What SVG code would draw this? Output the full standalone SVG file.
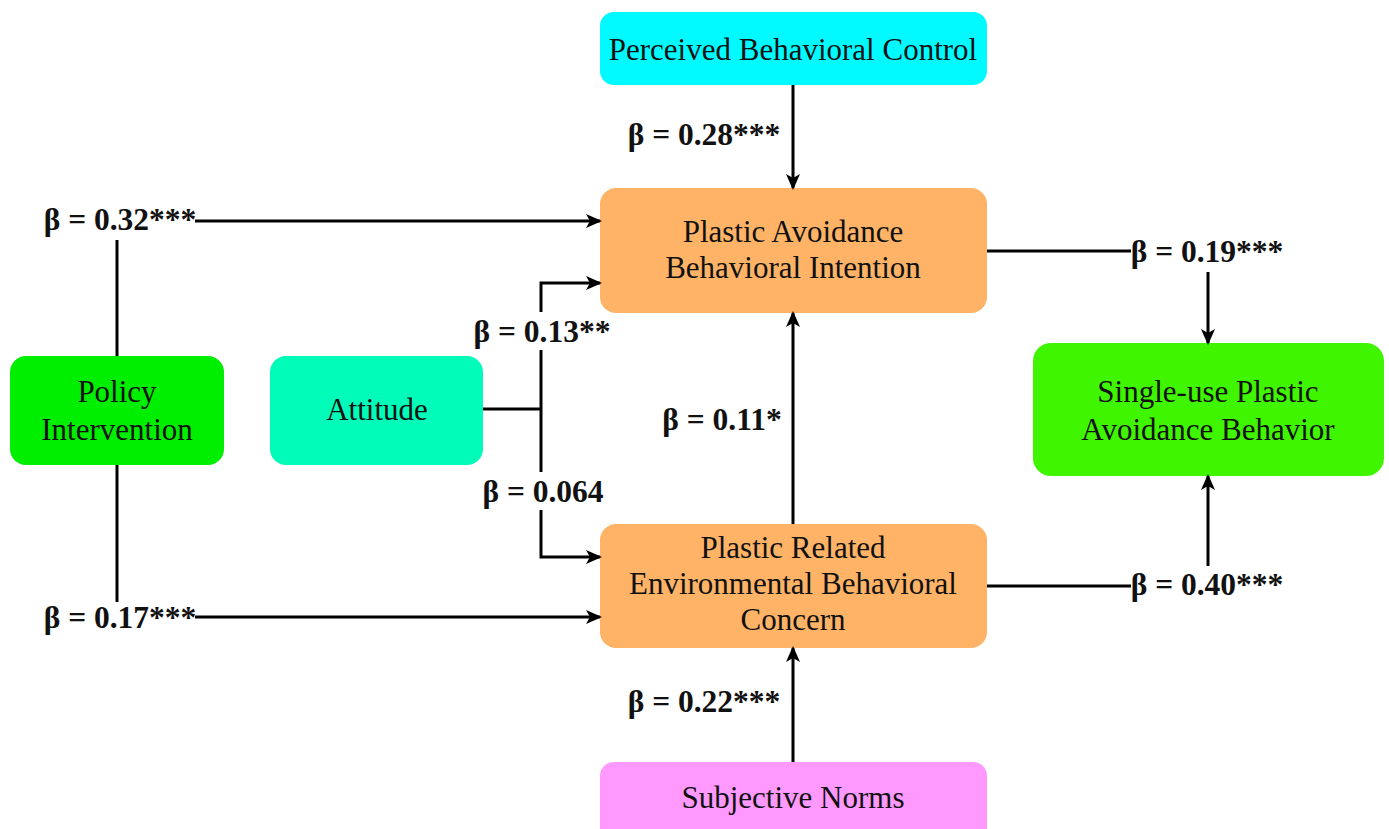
<svg xmlns="http://www.w3.org/2000/svg" width="1389" height="829" viewBox="0 0 1389 829">
<style>
.node text{font-family:'Liberation Serif',Tinos,'DejaVu Serif',serif;font-size:31px;fill:#111;text-anchor:middle}
.lbl{font-family:'Liberation Serif',Tinos,'DejaVu Serif',serif;font-size:31.5px;font-weight:bold;fill:#111;text-anchor:middle}
.c line,.c polyline{stroke:#000;stroke-width:3;fill:none}
.a{marker-end:url(#arr)}
</style>
<defs>
<marker id="arr" markerWidth="16" markerHeight="14" refX="14" refY="7" orient="auto" markerUnits="userSpaceOnUse">
<path d="M0,0 L16,7 L0,14 L4,7 Z" fill="#000"/>
</marker>
</defs>
<rect width="1389" height="829" fill="#fff"/>
<g id="pbc" class="node"><rect x="600" y="12" width="387" height="73" rx="14" fill="#00FAFF"/><text x="793" y="60">Perceived Behavioral Control</text></g>
<g id="pai" class="node"><rect x="600" y="188" width="387" height="125" rx="16" fill="#FFB366"/><text x="793" y="242">Plastic Avoidance</text><text x="793" y="278">Behavioral Intention</text></g>
<g id="prebc" class="node"><rect x="600" y="524" width="387" height="124" rx="16" fill="#FFB366"/><text x="793" y="558">Plastic Related</text><text x="793" y="594">Environmental Behavioral</text><text x="793" y="630">Concern</text></g>
<g id="sn" class="node"><rect x="600" y="762" width="387" height="80" rx="14" fill="#FF99FF"/><text x="793" y="808">Subjective Norms</text></g>
<g id="policy" class="node"><rect x="10" y="356" width="214" height="109" rx="16" fill="#00EE00"/><text x="117" y="402">Policy</text><text x="117" y="440">Intervention</text></g>
<g id="attitude" class="node"><rect x="270" y="356" width="213" height="109" rx="16" fill="#00FCB8"/><text x="377" y="420">Attitude</text></g>
<g id="sub" class="node"><rect x="1033" y="343" width="351" height="133" rx="18" fill="#40F500"/><text x="1208" y="402">Single-use Plastic</text><text x="1208" y="440">Avoidance Behavior</text></g>
<g id="connectors" class="c">
<line x1="793" y1="85" x2="793" y2="188" class="a"/>
<line x1="195" y1="221" x2="600" y2="221" class="a"/>
<line x1="117" y1="240" x2="117" y2="356"/>
<line x1="117" y1="465" x2="117" y2="602"/>
<line x1="195" y1="617" x2="600" y2="617" class="a"/>
<line x1="483" y1="409" x2="542" y2="409"/>
<polyline points="541,312 541,283 600,283" class="a"/>
<line x1="541" y1="350" x2="541" y2="472"/>
<polyline points="541,510 541,557 600,557" class="a"/>
<line x1="793" y1="524" x2="793" y2="313" class="a"/>
<line x1="793" y1="762" x2="793" y2="648" class="a"/>
<line x1="987" y1="251" x2="1131" y2="251"/>
<line x1="1208" y1="272" x2="1208" y2="343" class="a"/>
<line x1="987" y1="586" x2="1131" y2="586"/>
<line x1="1208" y1="566" x2="1208" y2="476" class="a"/>
</g>
<g id="labels">
<text class="lbl" x="704" y="145">β = 0.28***</text>
<text class="lbl" x="120" y="230">β = 0.32***</text>
<text class="lbl" x="542" y="342">β = 0.13**</text>
<text class="lbl" x="543" y="502">β = 0.064</text>
<text class="lbl" x="722" y="430">β = 0.11*</text>
<text class="lbl" x="120" y="628">β = 0.17***</text>
<text class="lbl" x="704" y="712">β = 0.22***</text>
<text class="lbl" x="1207" y="262">β = 0.19***</text>
<text class="lbl" x="1207" y="595">β = 0.40***</text>
</g>
</svg>
